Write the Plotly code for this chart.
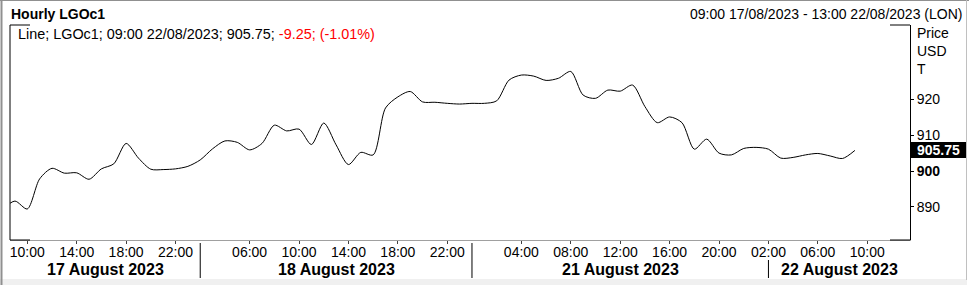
import plotly.graph_objects as go

# ---- data (hourly slots; 09:00 17/08/2023 = slot 0) ----
slots = list(range(-1, 69))
prices = [889.3, 891.6, 889.4, 897.8, 900.75, 899.4, 899.5, 897.7, 900.6, 902.0,
          907.7, 903.6, 900.5, 900.4, 900.6, 901.3, 903.1, 906.2, 908.4, 908.0,
          905.9, 907.7, 912.8, 911.2, 911.7, 907.4, 913.4, 907.3, 901.8, 905.2,
          904.5, 917.6, 920.7, 922.2, 919.3, 919.2, 918.9, 918.7, 918.9, 918.9,
          919.6, 925.4, 926.8, 926.5, 925.3, 925.9, 927.8, 921.2, 920.3, 922.6,
          922.3, 924.0, 918.0, 913.5, 915.1, 913.5, 906.1, 908.9, 905.0, 904.5,
          906.3, 906.6, 906.1, 903.6, 903.8, 904.5, 904.9, 904.2, 903.5, 905.75]

tick_slots = [1, 5, 9, 13, 19, 23, 27, 31, 35, 41, 45, 49, 53, 57, 61, 65, 69]
tick_labels = ["10:00", "14:00", "18:00", "22:00", "06:00", "10:00", "14:00", "18:00",
               "22:00", "04:00", "08:00", "12:00", "16:00", "20:00", "02:00", "06:00", "10:00"]

day_labels = ["17 August 2023", "18 August 2023", "21 August 2023", "22 August 2023"]
day_bounds = [-0.4, 15, 37, 61, 72.46]

y_ticks = [890, 900, 910, 920]
y_tick_text = ["890", "<b>900</b>", "910", "920"]

last_price = prices[-1]
change = -9.25
change_pct = -1.01

W, H = 969, 285
L, R, T, B = 10, 59, 25, 45
PW = W - L - R
PH = H - T - B


def px(x):
    return (x - L) / PW


def py(y):
    return (H - B - y) / PH


FONT = "Liberation Sans, Arial, sans-serif"

fig = go.Figure()
fig.add_trace(go.Scatter(x=slots, y=prices, mode="lines",
                         line=dict(color="black", width=1, shape="spline", smoothing=0.8),
                         hoverinfo="skip", showlegend=False))

fig.update_layout(
    width=W, height=H,
    margin=dict(l=L, r=R, t=T, b=B),
    paper_bgcolor="white", plot_bgcolor="white",
    font=dict(family=FONT, size=14, color="black"),
    xaxis=dict(range=[day_bounds[0], day_bounds[-1]], tickvals=tick_slots, ticktext=tick_labels,
               showgrid=False, zeroline=False, showline=True, linecolor="#a0a0a0", linewidth=1,
               ticks="outside", ticklen=3, tickcolor="#404040", tickfont=dict(size=14, color="#000"),
               ticklabelstandoff=-4, fixedrange=True),
    yaxis=dict(range=[880.73, 940.78], side="right", tickvals=y_ticks, ticktext=y_tick_text,
               showgrid=False, zeroline=False, showline=True, linecolor="black", linewidth=1,
               ticks="outside", ticklen=3, tickcolor="black", tickfont=dict(size=14, color="#000"),
               fixedrange=True),
)

shapes = []
# left frame line
shapes.append(dict(type="line", xref="paper", yref="paper", x0=0, x1=0, y0=0, y1=1,
                   line=dict(color="black", width=1)))
# corner marks top and bottom
for (a, b) in [(0, px(30)), (px(890), 1)]:
    shapes.append(dict(type="line", xref="paper", yref="paper", x0=a, x1=b, y0=1, y1=1,
                       line=dict(color="black", width=1)))
    shapes.append(dict(type="line", xref="paper", yref="paper", x0=a, x1=b, y0=0, y1=0,
                       line=dict(color="black", width=1)))
# day separators (interrupted where an hour label sits on them)
for s in day_bounds[1:-1]:
    top = 260 if s in tick_slots else 243
    shapes.append(dict(type="line", xref="x", yref="paper", x0=s, x1=s, y0=py(top), y1=py(278),
                       line=dict(color="black", width=1)))
# outer border and bottom band
shapes.append(dict(type="rect", xref="paper", yref="paper", x0=px(0), x1=px(967), y0=py(279), y1=py(285),
                   fillcolor="#f0f0f0", line=dict(width=0), layer="below"))
shapes.append(dict(type="line", xref="paper", yref="paper", x0=px(1.5), x1=px(1.5), y0=py(0), y1=py(285),
                   line=dict(color="#909090", width=2)))
shapes.append(dict(type="line", xref="paper", yref="paper", x0=px(0), x1=px(969), y0=py(0.5), y1=py(0.5),
                   line=dict(color="#909090", width=1)))
shapes.append(dict(type="line", xref="paper", yref="paper", x0=px(966.5), x1=px(966.5), y0=py(0), y1=py(280),
                   line=dict(color="#c0c0c0", width=1)))
# last price box
shapes.append(dict(type="rect", xref="paper", yref="y", x0=1.0, x1=px(966),
                   y0=last_price - 2.1, y1=last_price + 2.35,
                   fillcolor="black", line=dict(width=0)))
fig.update_layout(shapes=shapes)

ann = []
ann.append(dict(text="<b>Hourly LGOc1</b>", xref="paper", yref="paper", x=px(9), y=py(14),
                xanchor="left", yanchor="middle", showarrow=False, font=dict(size=14, color="black")))
ann.append(dict(text="09:00 17/08/2023 - 13:00 22/08/2023 (LON)", xref="paper", yref="paper",
                x=px(964), y=py(14), xanchor="right", yanchor="middle", showarrow=False,
                font=dict(size=14, color="black")))
ann.append(dict(text=f"Line; LGOc1; 09:00 22/08/2023; {last_price:.2f}; "
                     f"<span style='color:#ff0000'>{change:.2f}; ({change_pct:.2f}%)</span>",
                xref="paper", yref="paper", x=px(16), y=py(34), xanchor="left", yanchor="middle",
                showarrow=False, font=dict(size=14.4, color="black")))
for i, t in enumerate(["Price", "USD", "T"]):
    ann.append(dict(text=t, xref="paper", yref="paper", x=px(915), y=py(33 + i * 18),
                    xanchor="left", yanchor="middle", showarrow=False, font=dict(size=14, color="black")))
ann.append(dict(text=f"<b>{last_price:.2f}</b>", xref="paper", yref="y", x=px(938), y=last_price + 0.1,
                xanchor="center", yanchor="middle", showarrow=False, font=dict(size=14, color="white")))
for i, d in enumerate(day_labels):
    c = (day_bounds[i] + day_bounds[i + 1]) / 2
    ann.append(dict(text=f"<b>{d}</b>", xref="x", yref="paper", x=c, y=py(269),
                    xanchor="center", yanchor="middle", showarrow=False, font=dict(size=16, color="black")))
fig.update_layout(annotations=ann)

fig.write_html("out.html")
